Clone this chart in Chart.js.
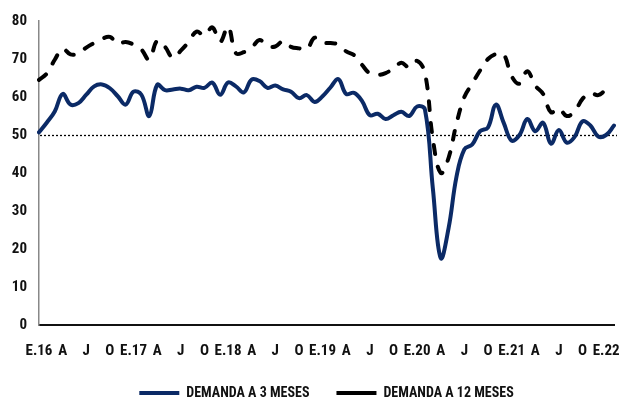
<!DOCTYPE html>
<html><head><meta charset="utf-8">
<script src="https://cdn.jsdelivr.net/npm/chart.js@4"></script>
<style>html,body{margin:0;padding:0;background:#fff}</style>
</head><body>
<canvas id="c" width="619" height="401"></canvas>
<script>
// Months Jan 2016 .. Feb 2022 (E = enero)
const months = [
 'E.16','F','M','A','M','J','J','A','S','O','N','D',
 'E.17','F','M','A','M','J','J','A','S','O','N','D',
 'E.18','F','M','A','M','J','J','A','S','O','N','D',
 'E.19','F','M','A','M','J','J','A','S','O','N','D',
 'E.20','F','M','A','M','J','J','A','S','O','N','D',
 'E.21','F','M','A','M','J','J','A','S','O','N','D',
 'E.22','F'
];
const demanda3 = [
 50.7,53.3,56.2,60.8,58.0,58.4,60.6,62.8,63.3,62.3,60.2,58.0,
 61.4,60.6,55.0,63.2,61.8,62.0,62.2,61.8,62.7,62.4,63.8,60.6,
 63.8,62.8,61.2,64.6,64.2,62.4,63.0,62.0,61.4,59.7,60.5,58.7,
 60.2,62.5,64.7,60.8,61.1,59.0,55.2,55.6,54.2,55.2,56.1,55.0,
 57.5,56.7,36.0,17.6,25.5,39.0,46.2,47.5,51.0,52.0,58.0,53.2,
 48.5,50.0,54.2,51.0,53.2,47.7,51.3,48.0,49.5,53.6,52.5,49.6,
 50.0,52.5
];
const demanda12 = [
 64.5,66.2,69.8,72.7,71.2,71.5,73.0,74.2,75.3,75.8,74.0,74.5,
 73.8,72.5,69.8,74.8,73.2,70.3,72.2,74.5,77.2,76.2,78.3,74.5,
 78.5,71.5,71.8,73.0,75.0,73.5,73.3,74.7,73.2,72.8,72.6,75.6,
 74.3,74.2,73.8,72.0,71.0,68.5,66.2,65.8,66.3,67.5,69.0,67.8,
 69.5,66.3,49.0,40.0,44.0,53.0,60.0,63.5,67.0,70.0,71.3,71.2,
 65.5,63.5,66.8,63.0,60.8,56.0,57.0,55.0,56.2,59.5,61.0,60.5,
 61.8,62.0
];
const seriesNames = ['DEMANDA A 3 MESES','DEMANDA A 12 MESES'];
const yTicks = {min:0, max:80, step:10};
const threshold = 50;

const FONT = "'Roboto Condensed','Open Sans Condensed','Liberation Sans',sans-serif";

const refLine = {
  id:'refLine',
  beforeDatasetsDraw(chart){
    const {ctx, chartArea:a, scales:{y}} = chart;
    const py = Math.round(y.getPixelForValue(threshold)) + 0.5;
    ctx.save();
    ctx.strokeStyle = '#000';
    ctx.lineWidth = 1.3;
    ctx.setLineDash([2,2]);
    ctx.beginPath();
    ctx.moveTo(a.left+1, py);
    ctx.lineTo(a.right+3, py);
    ctx.stroke();
    ctx.restore();
  }
};

new Chart(document.getElementById('c'), {
  type:'line',
  data:{
    labels: months,
    datasets:[
      {label:seriesNames[0], data:demanda3, borderColor:'#0b2a66', backgroundColor:'#0b2a66',
       borderWidth:4, pointRadius:0, tension:0.4, borderCapStyle:'round', borderJoinStyle:'round'},
      {label:seriesNames[1], data:demanda12, borderColor:'#000', backgroundColor:'#000',
       borderWidth:4, pointRadius:0, tension:0.4, borderDash:[9,13], borderCapStyle:'round', borderJoinStyle:'round'}
    ]
  },
  options:{
    responsive:false, animation:false, devicePixelRatio:1,
    layout:{padding:{left:0, right:5, top:18, bottom:-9}},
    plugins:{
      tooltip:{enabled:false},
      legend:{
        position:'bottom', fullSize:false,
        labels:{usePointStyle:true, pointStyle:'line', pointStyleWidth:40, padding:27,
          color:'#111', font:{family:FONT, size:14, weight:'bold'}}
      }
    },
    scales:{
      x:{
        offset:false,
        grid:{display:false, drawTicks:false},
        border:{display:true, color:'#111', width:2},
        afterFit(s){ s.height = 34; s.paddingLeft = 0; s.paddingRight = 0; },
        ticks:{autoSkip:false, maxRotation:0, minRotation:0, padding:17, color:'#111',
          font:{family:FONT, size:15, weight:'bold'},
          callback:(v,i)=> i%3===0 ? months[i] : ''}
      },
      y:{
        min:yTicks.min, max:yTicks.max,
        grid:{display:false, drawTicks:false},
        border:{display:true, color:'#888', width:1.5},
        afterFit(s){ s.width = 39; },
        ticks:{stepSize:yTicks.step, padding:12, color:'#111',
          font:{family:FONT, size:15, weight:'bold'}}
      }
    }
  },
  plugins:[refLine]
});
</script>
</body></html>
